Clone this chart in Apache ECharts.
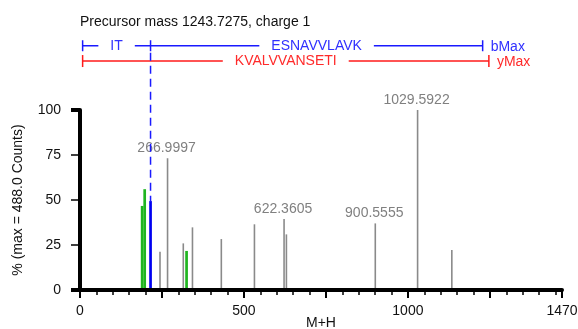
<!DOCTYPE html>
<html><head><meta charset="utf-8">
<script src="https://cdn.jsdelivr.net/npm/echarts@6/dist/echarts.min.js"></script>
<style>html,body{margin:0;padding:0;background:#fff}#c{width:578px;height:329px}</style>
</head><body><div id="c"></div>
<script>
// ---- data ----
const titleText = 'Precursor mass 1243.7275, charge 1';
const grayMz = [244, 266.9997, 315, 343, 431, 532, 622.3605, 629.5, 900.5555, 1029.5922, 1134];
const grayPct = [21.3, 73.2, 25.9, 34.8, 28.3, 36.5, 39.4, 30.9, 37.0, 100, 22.2];
const grayLabels = ['', '266.9997', '', '', '', '', '622.3605', '', '900.5555', '1029.5922', ''];
const greenMz = [189.5, 197.3, 325];
const greenPct = [46.7, 56.0, 21.7];
const blueMz = [215.14];
const bluePct = [49.4];
const bIonMz = [8, 215.14, 1228];
const bIonText = ['IT', 'ESNAVVLAVK'];
const bEndLabel = 'bMax';
const yIonMz = [8, 1247];
const yIonText = ['KVALVVANSETI'];
const yEndLabel = 'yMax';
const xTickMajor = [0, 250, 500, 750, 1000, 1250, 1470];
const xLabelValues = [0, 500, 1000, 1470];
const yTickThick = [0, 100];
const xName = 'M+H';
const yName = '% (max = 488.0 Counts)';

const FONT = '"Liberation Sans", Arial, Helvetica, sans-serif';

function peakSeries(mz, pct, labels, color, width) {
  return {
    type: 'custom', xAxisIndex: 0, yAxisIndex: 0, clip: false, z: 1,
    data: mz.map((m, i) => [m, pct[i]]),
    renderItem: function (params, api) {
      const base = api.coord([api.value(0), 0]);
      const top = api.coord([api.value(0), api.value(1)]);
      const children = [{
        type: 'line',
        shape: { x1: base[0], y1: base[1], x2: top[0], y2: top[1] },
        style: { stroke: color, lineWidth: width }
      }];
      const lab = labels ? labels[params.dataIndex] : '';
      if (lab) {
        children.push({
          type: 'text',
          style: { text: lab, x: top[0] - 1, y: top[1] - 3, align: 'center', verticalAlign: 'bottom',
                   fill: '#808080', fontSize: 14, fontFamily: FONT }
        });
      }
      return { type: 'group', children: children };
    }
  };
}

function ionRow(api, mzs, texts, endLabel, lineColor, textColor, level, half) {
  const pts = mzs.map(m => api.coord([m, level]));
  const y = pts[0][1];
  const ch = [];
  ch.push({ type: 'line', shape: { x1: pts[0][0], y1: y, x2: pts[pts.length - 1][0], y2: y },
            style: { stroke: lineColor, lineWidth: 1.5 } });
  pts.forEach(p => ch.push({ type: 'line', shape: { x1: p[0], y1: y - half, x2: p[0], y2: y + half },
            style: { stroke: lineColor, lineWidth: 1.5 } }));
  texts.forEach((t, i) => {
    const cx = (pts[i][0] + pts[i + 1][0]) / 2;
    ch.push({ type: 'text', style: { text: t, x: cx, y: y, align: 'center', verticalAlign: 'middle',
              fill: textColor, fontSize: 14, fontFamily: FONT, backgroundColor: '#fff', padding: [1, 12] } });
  });
  const last = pts[pts.length - 1];
  ch.push({ type: 'text', style: { text: endLabel, x: last[0] + 8, y: y + 1, align: 'left', verticalAlign: 'middle',
            fill: textColor, fontSize: 14, fontFamily: FONT } });
  return ch;
}

const annotationSeries = {
  type: 'custom', xAxisIndex: 0, yAxisIndex: 0, clip: false, z: 3,
  data: [[0, 0]],
  renderItem: function (params, api) {
    const blueLevel = 135.7, redLevel = 127.2;
    const ch = [];
    ch.push(...ionRow(api, bIonMz, bIonText, bEndLabel, '#1a1aff', '#3030ff', blueLevel, 5.5));
    ch.push(...ionRow(api, yIonMz, yIonText, yEndLabel, '#ff1a1a', '#ff2a2a', redLevel, 6));
    // dashed guide from the b-ion break down to the matched peak
    const topP = api.coord([bIonMz[1], blueLevel]);
    const peakP = api.coord([blueMz[0], bluePct[0]]);
    ch.push({ type: 'line', shape: { x1: topP[0], y1: topP[1] + 7, x2: topP[0], y2: peakP[1] },
              style: { stroke: '#1a1aff', lineWidth: 1.5, lineDash: [8, 5] } });
    return { type: 'group', children: ch };
  }
};

const chart = echarts.init(document.getElementById('c'), null, { renderer: 'canvas' });
const gridRect = { left: 80, right: 16, top: 110, bottom: 39, containLabel: false, outerBoundsMode: 'none' };
const plain = v => String(v);
chart.setOption({
  animation: false,
  backgroundColor: '#fff',
  title: { text: titleText, left: 80, top: 15, padding: 0,
           textStyle: { fontSize: 14, fontWeight: 'normal', color: '#111', fontFamily: FONT } },
  grid: [Object.assign({}, gridRect), Object.assign({}, gridRect)],
  xAxis: [
    { type: 'value', gridIndex: 0, min: 0, max: 1470, interval: 50, z: 5,
      axisLine: { lineStyle: { color: '#000', width: 4 } },
      axisTick: { length: 5, lineStyle: { color: '#000', width: 1.5 } },
      axisLabel: { show: false }, splitLine: { show: false } },
    { type: 'value', gridIndex: 1, min: 0, max: 1470, z: 5,
      axisLine: { show: false, onZero: false },
      axisTick: { customValues: xTickMajor, length: 8, lineStyle: { color: '#000', width: 2 } },
      axisLabel: { customValues: xLabelValues, formatter: plain, margin: 14, fontSize: 14, color: '#111', fontFamily: FONT },
      splitLine: { show: false },
      name: xName, nameLocation: 'middle', nameGap: 26, nameMoveOverlap: false,
      nameTextStyle: { fontSize: 14, color: '#111', fontFamily: FONT } }
  ],
  yAxis: [
    { type: 'value', gridIndex: 0, min: 0, max: 100, interval: 25, z: 5,
      axisLine: { show: true, lineStyle: { color: '#000', width: 4 } },
      axisTick: { show: true, length: 9, lineStyle: { color: '#000', width: 1.5 } },
      axisLabel: { margin: 19, formatter: plain, fontSize: 14, color: '#111', fontFamily: FONT },
      splitLine: { show: false },
      name: yName, nameLocation: 'middle', nameGap: 55, nameMoveOverlap: false,
      nameTextStyle: { fontSize: 14, color: '#111', fontFamily: FONT } },
    { type: 'value', gridIndex: 1, min: 0, max: 100, z: 5,
      axisLine: { show: false, onZero: false },
      axisTick: { show: true, customValues: yTickThick, length: 9, lineStyle: { color: '#000', width: 4 } },
      axisLabel: { show: false }, splitLine: { show: false } }
  ],
  series: [
    peakSeries(grayMz, grayPct, grayLabels, '#8a8a8a', 1.6),
    peakSeries(greenMz, greenPct, null, '#1fb51f', 2.7),
    peakSeries(blueMz, bluePct, null, '#0000f0', 2.7),
    annotationSeries
  ]
});
</script>
</body></html>
